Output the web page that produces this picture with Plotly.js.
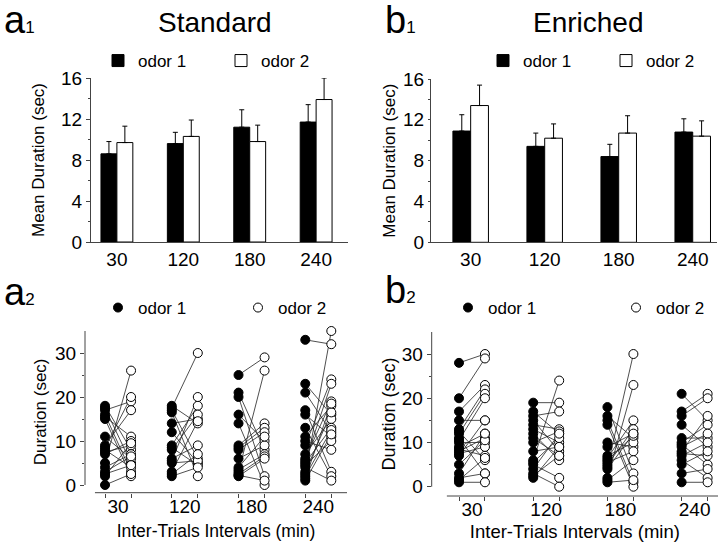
<!DOCTYPE html>
<html>
<head>
<meta charset="utf-8">
<script src="https://cdn.plot.ly/plotly-3.0.1.min.js"></script>
<style>html,body{margin:0;padding:0;background:#fff;}#chart{width:720px;height:542px;}</style>
</head>
<body>
<div id="chart"></div>
<script>
// ---- categories ----
const intervals = ["30", "120", "180", "240"];

// ---- top panels: mean duration (sec) and upper SEM ----
const stdMean1 = [8.6, 9.6, 11.2, 11.7];
const stdMean2 = [9.7, 10.3, 9.8, 13.9];
const stdSem1  = [1.2, 1.1, 1.7, 1.7];
const stdSem2  = [1.6, 1.6, 1.6, 2.1];
const enrMean1 = [10.9, 9.4, 8.4, 10.8];
const enrMean2 = [13.4, 10.2, 10.7, 10.4];
const enrSem1  = [1.6, 1.3, 1.2, 1.3];
const enrSem2  = [2.0, 1.4, 1.7, 1.5];

// ---- bottom panels: individual durations (sec), paired odor 1 -> odor 2 ----
const std30_o1  = [18, 17.5, 17, 16, 15.5, 15, 11, 9, 8.5, 8, 7.5, 7, 5, 4, 3, 2.5, 2, 0];
const std30_o2  = [8, 5, 19, 3, 11, 2, 6, 17, 20, 4, 9, 10, 26, 7, 6.5, 4.5, 9.5, 2.5];
const std120_o1 = [18, 17.5, 17, 16.5, 14, 12, 9, 8.5, 8, 6, 5.5, 5, 3, 2.5, 2];
const std120_o2 = [14, 30, 6, 2, 15, 5, 18, 4.5, 16, 9, 20, 5.5, 14.5, 7, 4];
const std180_o1 = [25, 21, 20, 16, 14, 9, 8.5, 8, 6, 4, 3.5, 3, 2.5, 2.2, 2];
const std180_o2 = [29, 8, 2, 10, 0, 14, 13, 12, 9, 11, 7, 26, 6.5, 1, 6];
const std240_o1 = [33, 23, 21, 17, 16, 13, 11, 10, 9, 7, 6, 5.5, 5, 4.5, 4, 3, 2.5, 2, 1.5, 1];
const std240_o2 = [32, 16, 12, 3, 11, 2, 18, 8, 24, 15, 19, 23, 13, 10, 1, 16.5, 35, 12.5, 18.5, 11.5];

const enr30_o1  = [28, 20, 17, 15, 13, 12.5, 12, 11, 10.5, 10, 9, 8.5, 8, 7.5, 7, 5, 3, 2, 1.5, 1];
const enr30_o2  = [30, 29, 23, 15, 22, 6, 21, 3, 20, 10, 12, 7, 11, 9, 15, 10.5, 12, 3, 6.5, 1];
const enr120_o1 = [19, 17, 16, 15, 14, 13, 12, 11, 10, 8, 6, 5.5, 5, 4, 3, 2.5, 2];
const enr120_o2 = [19, 12, 17, 8, 13, 10, 6, 7, 12.5, 9, 24, 11, 2, 12, 0, 7, 9];
const enr180_o1 = [18, 16, 15, 14, 10, 9, 7, 6.5, 6, 5.5, 5, 4.5, 4, 2, 1.5, 1];
const enr180_o2 = [3, 11, 1, 0, 9, 12, 10, 15, 11.5, 8, 13, 30, 12, 23, 6, 1.5];
const enr240_o1 = [21, 17, 16, 14, 11, 10, 9.5, 9, 8, 7.5, 7, 6, 5, 3, 1];
const enr240_o2 = [15, 21, 20, 9, 11, 14, 5, 12, 16, 7, 10, 2, 8, 4, 1];

const stdPairs = [[std30_o1, std30_o2], [std120_o1, std120_o2], [std180_o1, std180_o2], [std240_o1, std240_o2]];
const enrPairs = [[enr30_o1, enr30_o2], [enr120_o1, enr120_o2], [enr180_o1, enr180_o2], [enr240_o1, enr240_o2]];

const pos = intervals.map((c, i) => i);
const FONT = 'Liberation Sans, Arial, sans-serif';
const AX = '#444';

function barTrace(y, sem, fill, name, xa, ya, lg) {
  return {
    type: 'bar', x: pos, y: y, name: name, xaxis: xa, yaxis: ya, legend: lg,
    marker: {color: fill, line: {color: '#000', width: 1}},
    error_y: {type: 'data', array: sem, arrayminus: sem.map(() => 0), symmetric: false,
              color: '#000', thickness: 1, width: 2.5},
    cliponaxis: false, hoverinfo: 'skip'
  };
}

function pairTraces(pairs, off, xa, ya, lg1, lg2) {
  const lx = [], ly = [], x1 = [], y1 = [], x2 = [], y2 = [];
  pairs.forEach((p, i) => {
    p[0].forEach((v, k) => {
      lx.push(i - off, i + off, null);
      ly.push(v, p[1][k], null);
      x1.push(i - off); y1.push(v);
      x2.push(i + off); y2.push(p[1][k]);
    });
  });
  return [
    {type: 'scatter', mode: 'lines', x: lx, y: ly, xaxis: xa, yaxis: ya, showlegend: false,
     line: {color: '#222', width: 0.8}, cliponaxis: false, hoverinfo: 'skip', connectgaps: false},
    {type: 'scatter', mode: 'markers', x: x1, y: y1, xaxis: xa, yaxis: ya, name: 'odor 1', legend: lg1,
     marker: {color: '#000', size: 9, line: {color: '#000', width: 1}}, cliponaxis: false, hoverinfo: 'skip'},
    {type: 'scatter', mode: 'markers', x: x2, y: y2, xaxis: xa, yaxis: ya, name: 'odor 2', legend: lg2,
     marker: {color: '#fff', size: 9, line: {color: '#000', width: 1}}, cliponaxis: false, hoverinfo: 'skip'}
  ];
}

const data = [
  barTrace(stdMean1, stdSem1, '#000', 'odor 1', 'x', 'y', 'legend'),
  barTrace(stdMean2, stdSem2, '#fff', 'odor 2', 'x', 'y', 'legend2'),
  barTrace(enrMean1, enrSem1, '#000', 'odor 1', 'x2', 'y2', 'legend3'),
  barTrace(enrMean2, enrSem2, '#fff', 'odor 2', 'x2', 'y2', 'legend4'),
  ...pairTraces(stdPairs, 0.195, 'x3', 'y3', 'legend5', 'legend6'),
  ...pairTraces(enrPairs, 0.175, 'x4', 'y4', 'legend7', 'legend8')
];

function px(v) { return v / 720; }
function py(v) { return 1 - v / 542; }

const TF = 19;
const baseX = {showgrid: false, zeroline: false, linecolor: AX, linewidth: 1, tickfont: {size: TF},
               tickvals: pos, ticktext: intervals, automargin: false, fixedrange: true};
const baseY = {showgrid: false, zeroline: false, linecolor: AX, linewidth: 1, tickfont: {size: TF},
               ticks: 'outside', ticklen: 4, tickcolor: AX, automargin: false, fixedrange: true};

function leg(xText, yc) {
  return {orientation: 'h', x: px(xText - 40), y: py(yc), xanchor: 'left', yanchor: 'middle',
          bgcolor: 'rgba(0,0,0,0)', borderwidth: 0, font: {size: 17}, itemclick: false, itemdoubleclick: false};
}

const layout = {
  width: 720, height: 542,
  margin: {l: 0, r: 0, t: 0, b: 0, pad: 0, autoexpand: false},
  paper_bgcolor: '#fff', plot_bgcolor: '#fff',
  font: {family: FONT, size: 17, color: '#000'},
  barmode: 'group', bargap: 0.52, bargroupgap: 0,
  xaxis: Object.assign({}, baseX, {domain: [px(91), px(348)], range: [-0.39, 3.48], anchor: 'y',
          ticks: '', showline: true}),
  yaxis: Object.assign({}, baseY, {domain: [py(242), py(78)], range: [0, 16], anchor: 'x',
          tick0: 0, dtick: 4, showline: true,
          minor: {tick0: 0, dtick: 2, ticks: 'outside', ticklen: 2, tickcolor: AX},
          title: {text: 'Mean Duration (sec)', font: {size: 17}, standoff: 12}}),
  xaxis2: Object.assign({}, baseX, {domain: [px(431), px(717)], range: [-0.536, 3.328], anchor: 'y2',
          ticks: '', showline: true}),
  yaxis2: Object.assign({}, baseY, {domain: [py(242.3), py(79)], range: [0, 16], anchor: 'x2',
          tick0: 0, dtick: 4, showline: true, ticklen: 2,
          minor: {tick0: 0, dtick: 2, ticks: 'outside', ticklen: 2, tickcolor: AX},
          title: {text: 'Mean Duration (sec)', font: {size: 17}, standoff: 3}}),
  xaxis3: Object.assign({}, baseX, {domain: [px(85), px(347)], range: [-0.495, 3.43], anchor: 'y3',
          ticks: '', showline: false,
          minor: {tickmode: 'array', tickvals: pos.flatMap(i => [i - 0.195, i + 0.195]),
                  ticks: 'outside', ticklen: 4, tickcolor: AX},
          title: {text: 'Inter-Trials Intervals (min)', font: {size: 17.5}, standoff: 9}}),
  yaxis3: Object.assign({}, baseY, {domain: [py(492.7), py(331)], range: [-1.75, 35], anchor: 'x3',
          tickvals: [0, 10, 20, 30], showline: false,
          minor: {tickmode: 'array', tickvals: [5, 15, 25], ticks: 'outside', ticklen: 2, tickcolor: AX},
          title: {text: 'Duration (sec)', font: {size: 17}, standoff: 4}}),
  xaxis4: Object.assign({}, baseX, {domain: [px(431.7), px(718)], range: [-0.543, 3.315], anchor: 'y4',
          ticks: '', showline: false,
          minor: {tickmode: 'array', tickvals: pos.flatMap(i => [i - 0.175, i + 0.175]),
                  ticks: 'outside', ticklen: 4, tickcolor: AX},
          title: {text: 'Inter-Trials Intervals (min)', font: {size: 18.5}, standoff: 7}}),
  yaxis4: Object.assign({}, baseY, {domain: [py(496), py(331.9)], range: [-2.1, 35], anchor: 'x4',
          tickvals: [0, 10, 20, 30], showline: false,
          minor: {tickmode: 'array', tickvals: [5, 15, 25], ticks: 'outside', ticklen: 2, tickcolor: AX},
          title: {text: 'Duration (sec)', font: {size: 18}, standoff: 1}}),
  legend:  leg(138, 61),
  legend2: leg(261, 61),
  legend3: leg(523, 61),
  legend4: leg(646, 61),
  legend5: leg(138, 308),
  legend6: leg(278, 308),
  legend7: leg(488, 308),
  legend8: leg(656, 308),
  shapes: [
    {type: 'line', xref: 'x3 domain', yref: 'y3', x0: 0, x1: 0, y0: 0, y1: 35, line: {color: AX, width: 1}},
    {type: 'line', xref: 'x3 domain', yref: 'y3 domain', x0: 0.038, x1: 1, y0: 0, y1: 0, line: {color: AX, width: 1}},
    {type: 'line', xref: 'x4 domain', yref: 'y4', x0: 0, x1: 0, y0: 0, y1: 35, line: {color: AX, width: 1}},
    {type: 'line', xref: 'x4 domain', yref: 'y4 domain', x0: 0.053, x1: 1, y0: 0, y1: 0, line: {color: AX, width: 1}}
  ],
  annotations: [
    {text: "a<span style='font-size:17px'>1</span>", x: px(2), y: py(20), xref: 'paper', yref: 'paper',
     xanchor: 'left', yanchor: 'middle', showarrow: false, font: {size: 38}},
    {text: 'Standard', x: px(215), y: py(23), xref: 'paper', yref: 'paper',
     xanchor: 'center', yanchor: 'middle', showarrow: false, font: {size: 28}},
    {text: "b<span style='font-size:17px'>1</span>", x: px(383), y: py(20), xref: 'paper', yref: 'paper',
     xanchor: 'left', yanchor: 'middle', showarrow: false, font: {size: 38}},
    {text: 'Enriched', x: px(588), y: py(23), xref: 'paper', yref: 'paper',
     xanchor: 'center', yanchor: 'middle', showarrow: false, font: {size: 28}},
    {text: "a<span style='font-size:17px'>2</span>", x: px(2), y: py(292), xref: 'paper', yref: 'paper',
     xanchor: 'left', yanchor: 'middle', showarrow: false, font: {size: 38}},
    {text: "b<span style='font-size:17px'>2</span>", x: px(383), y: py(290), xref: 'paper', yref: 'paper',
     xanchor: 'left', yanchor: 'middle', showarrow: false, font: {size: 38}}
  ]
};

Plotly.newPlot('chart', data, layout, {staticPlot: true, displayModeBar: false});
</script>
</body>
</html>
